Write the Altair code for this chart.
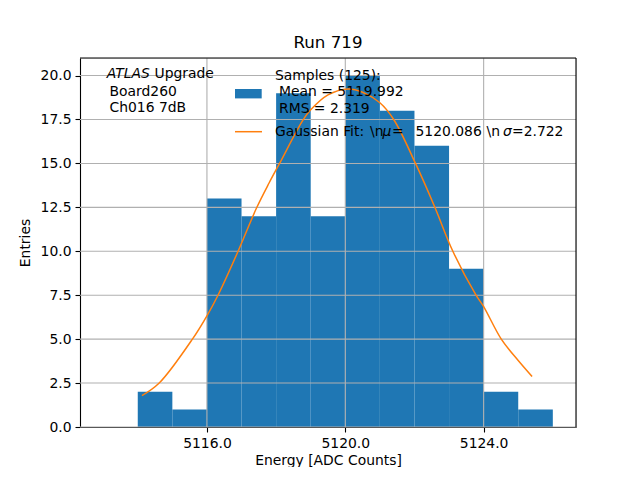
import altair as alt
import pandas as pd

# Histogram bins (left edges, right edges) and counts
bin_left = [5114, 5115, 5116, 5117, 5118, 5119, 5120, 5121, 5122, 5123, 5124, 5125]
bin_right = [5115, 5116, 5117, 5118, 5119, 5120, 5121, 5122, 5123, 5124, 5125, 5126]
counts = [2, 1, 13, 12, 19, 12, 20, 18, 16, 9, 2, 1]

# Gaussian fit curve
fit_x = [5114.12, 5114.62, 5115.58, 5116.00, 5116.32, 5116.90, 5117.43, 5117.80,
         5118.10, 5118.77, 5119.00, 5119.50, 5120.08, 5120.50, 5121.00, 5121.40,
         5122.03, 5122.58, 5123.11, 5123.78, 5124.00, 5124.51, 5125.00, 5125.40]
fit_y = [1.78, 2.50, 5.00, 6.33, 7.50, 10.00, 12.45, 13.90,
         15.00, 17.45, 18.05, 18.90, 19.24, 19.05, 18.45, 17.50,
         15.00, 12.55, 10.00, 7.50, 6.85, 5.00, 3.78, 2.87]

x_ticks = [5116, 5120, 5124]
y_ticks = [0, 2.5, 5, 7.5, 10, 12.5, 15, 17.5, 20]

FONT = "DejaVu Sans"
FS = 13.9
W, H = 496, 369

hist_df = pd.DataFrame({"lo": bin_left, "hi": bin_right, "n": counts})
fit_df = pd.DataFrame({"lo": fit_x, "n": fit_y})
xg_df = pd.DataFrame({"lo": x_ticks})
yg_df = pd.DataFrame({"n": y_ticks})
one = pd.DataFrame({"a": [0]})

xscale = alt.Scale(domain=[5112.33, 5126.67], nice=False, zero=False)
yscale = alt.Scale(domain=[0, 21], nice=False)

xaxis = alt.Axis(values=x_ticks, format=".1f", title="Energy [ADC Counts]", grid=False,
                 tickSize=5, tickColor="black", domainColor="black", labelColor="black",
                 labelFont=FONT, labelFontSize=FS, titleFont=FONT, titleFontSize=FS,
                 titleFontWeight="normal", titleColor="black", labelPadding=4, titlePadding=4,
                 domainWidth=1.1, tickWidth=1.1, labelFlush=False)
yaxis = alt.Axis(values=y_ticks, format=".1f", title="Entries", grid=False,
                 tickSize=5, tickColor="black", domainColor="black", labelColor="black",
                 labelFont=FONT, labelFontSize=FS, titleFont=FONT, titleFontSize=FS,
                 titleFontWeight="normal", titleColor="black", labelPadding=4, titlePadding=8,
                 domainWidth=1.1, tickWidth=1.1, labelFlush=False)

X = alt.X("lo:Q", scale=xscale, axis=xaxis, title="Energy [ADC Counts]")
Y = alt.Y("n:Q", scale=yscale, axis=yaxis, title="Entries")

bars = alt.Chart(hist_df).mark_rect(color="#1f77b4").encode(
    x=X, x2="hi:Q", y=Y, y2=alt.datum(0),
)

xgrid = alt.Chart(xg_df).mark_rule(color="#b0b0b0", strokeWidth=1.1).encode(x=X)
ygrid = alt.Chart(yg_df).mark_rule(color="#b0b0b0", strokeWidth=1.1).encode(y=Y)

line = alt.Chart(fit_df).mark_line(color="#ff7f0e", strokeWidth=1.5,
                                   interpolate="catmull-rom").encode(x=X, y=Y)


def txt(s, x, y, italic=False):
    return alt.Chart(one).mark_text(
        text=s, align="left", baseline="middle", font=FONT, fontSize=FS,
        fontStyle="italic" if italic else "normal", color="black"
    ).encode(x=alt.value(x), y=alt.value(y))


patch = alt.Chart(one).mark_rect(color="#1f77b4").encode(
    x=alt.value(155), x2=alt.value(181.7), y=alt.value(31), y2=alt.value(40.4)
)
leg_line = alt.Chart(one).mark_rule(color="#ff7f0e", strokeWidth=1.5).encode(
    x=alt.value(155), x2=alt.value(182), y=alt.value(73.7)
)
right_border = alt.Chart(one).mark_rule(color="black", strokeWidth=1.1).encode(
    x=alt.value(W), y=alt.value(0), y2=alt.value(H)
)
top_border = alt.Chart(one).mark_rule(color="black", strokeWidth=1.1).encode(
    x=alt.value(0), x2=alt.value(W), y=alt.value(0)
)

texts = [
    txt("Samples (125):", 195, 17.7),
    txt("Mean = 5119.992", 199, 34.4),
    txt("RMS = 2.319", 199, 51),
    txt("Gaussian Fit:", 195, 73.7),
    txt("\\n", 290, 73.7),
    txt("\u03bc", 302.5, 73.7, italic=True),
    txt("=", 312, 73.7),
    txt("5120.086", 335.5, 73.7),
    txt("\\n", 406.5, 73.7),
    txt("\u03c3", 423, 73.7, italic=True),
    txt("=2.722", 432, 73.7),
    txt("ATLAS", 26.7, 15.7, italic=True),
    txt("Upgrade", 74.5, 15.7),
    txt("Board260", 29.5, 34),
    txt("Ch016 7dB", 29.5, 50),
]

chart = alt.layer(bars, xgrid, ygrid, line, patch, leg_line, right_border, top_border,
                  *texts).properties(
    width=W, height=H,
    title=alt.TitleParams("Run 719", font=FONT, fontSize=16.7, fontWeight="normal",
                          color="black", offset=6),
    autosize=alt.AutoSizeParams(type="none"),
    padding={"left": 72, "top": 50, "right": 40, "bottom": 40},
).configure_view(stroke="black", strokeWidth=1.1).configure(background="white")

chart.save("out.html", embed_options={"renderer": "svg", "actions": False})
